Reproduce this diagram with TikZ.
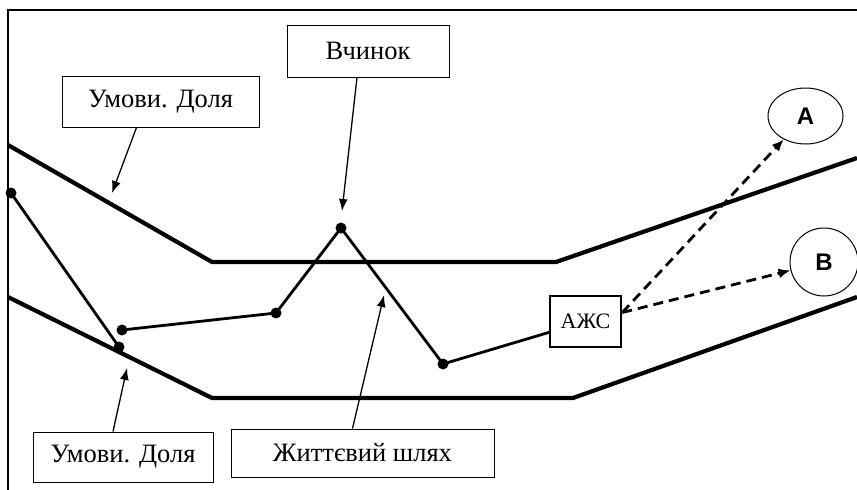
\documentclass[tikz,border=0pt]{standalone}
\usepackage{fontspec}
\setmainfont{Liberation Serif}
\newfontfamily\arialfont{Liberation Sans}
\usetikzlibrary{arrows.meta,shapes.geometric}

\begin{document}
\begin{tikzpicture}
  [x=1pt,y=-1pt,
   textbox/.style={draw,line width=1pt,inner sep=0pt,font=\fontsize{26.5}{30}\selectfont},
   dot/.style={circle,fill,inner sep=0pt,minimum size=11pt},
   border/.style={line width=4.2pt},
   lifeline/.style={line width=2.8pt,line cap=round},
   pointer/.style={line width=1.3pt,-{Latex[length=12pt,width=9pt]}},
   hop/.style={line width=2.8pt,dash pattern=on 10pt off 6pt,-{Latex[length=12pt,width=10pt]}},
   goal/.style={draw,line width=1pt,inner sep=0pt,font=\arialfont\bfseries\fontsize{24}{28}\selectfont}]
  \useasboundingbox (0,0) rectangle (857,490);

  % frame and corridor
  \draw[line width=2pt] (8,490) -- (8,10) -- (857,10);
  \draw[border] (8,145) -- (212,262) -- (556,262) -- (857,158);
  \draw[border] (8,297) -- (212,398) -- (573,398) -- (857,297);

  \node[textbox,minimum width=197pt,minimum height=51pt] (topfate) at (160.5,101.5) {Умови. Доля};
  \node[textbox,minimum width=162pt,minimum height=52pt] (deed) at (368,51) {Вчинок};
  \node[textbox,minimum width=180pt,minimum height=50pt] (lowfate) at (123,457) {Умови. Доля};
  \node[textbox,minimum width=263pt,minimum height=48pt] (life) at (362.5,453) {Життєвий шлях};
  \node[draw,line width=2.6pt,minimum width=71pt,minimum height=51pt,inner sep=0pt,
        font=\fontsize{22}{26}\selectfont] (azs) at (585.5,321.5) {АЖС};
  \node[goal,ellipse,minimum width=75pt,minimum height=56pt] (A) at (805.5,116) {A};
  \node[goal,circle,minimum size=68pt] (B) at (824,262) {B};

  \node[dot] (p1) at (11,193) {};
  \node[dot] (p2) at (119,347) {};
  \node[dot] (p3) at (122,330) {};
  \node[dot] (p4) at (276,313) {};
  \node[dot] (p5) at (341,228) {};
  \node[dot] (p6) at (443,364) {};

  \foreach \from/\to in {p1/p2,p3/p4,p4/p5,p5/p6}
    \draw[lifeline] (\from.center) -- (\to.center);
  \draw[lifeline] (p6.center) -- (azs);

  \coordinate (t1) at (112,193);
  \coordinate (t2) at (342,211);
  \coordinate (t3) at (127,368);
  \coordinate (t4) at (384,295);
  \foreach \src/\dx/\tip in {topfate.south/-24/t1,deed.south/-11/t2,lowfate.north/-10/t3,life.north/-10/t4}
    \draw[pointer] ([xshift=\dx pt]\src) -- (\tip);

  \coordinate (fork) at ([yshift=9pt]azs.east);
  \draw[hop] (fork) -- (A);
  \draw[hop] (fork) -- (B);

\end{tikzpicture}
\end{document}
